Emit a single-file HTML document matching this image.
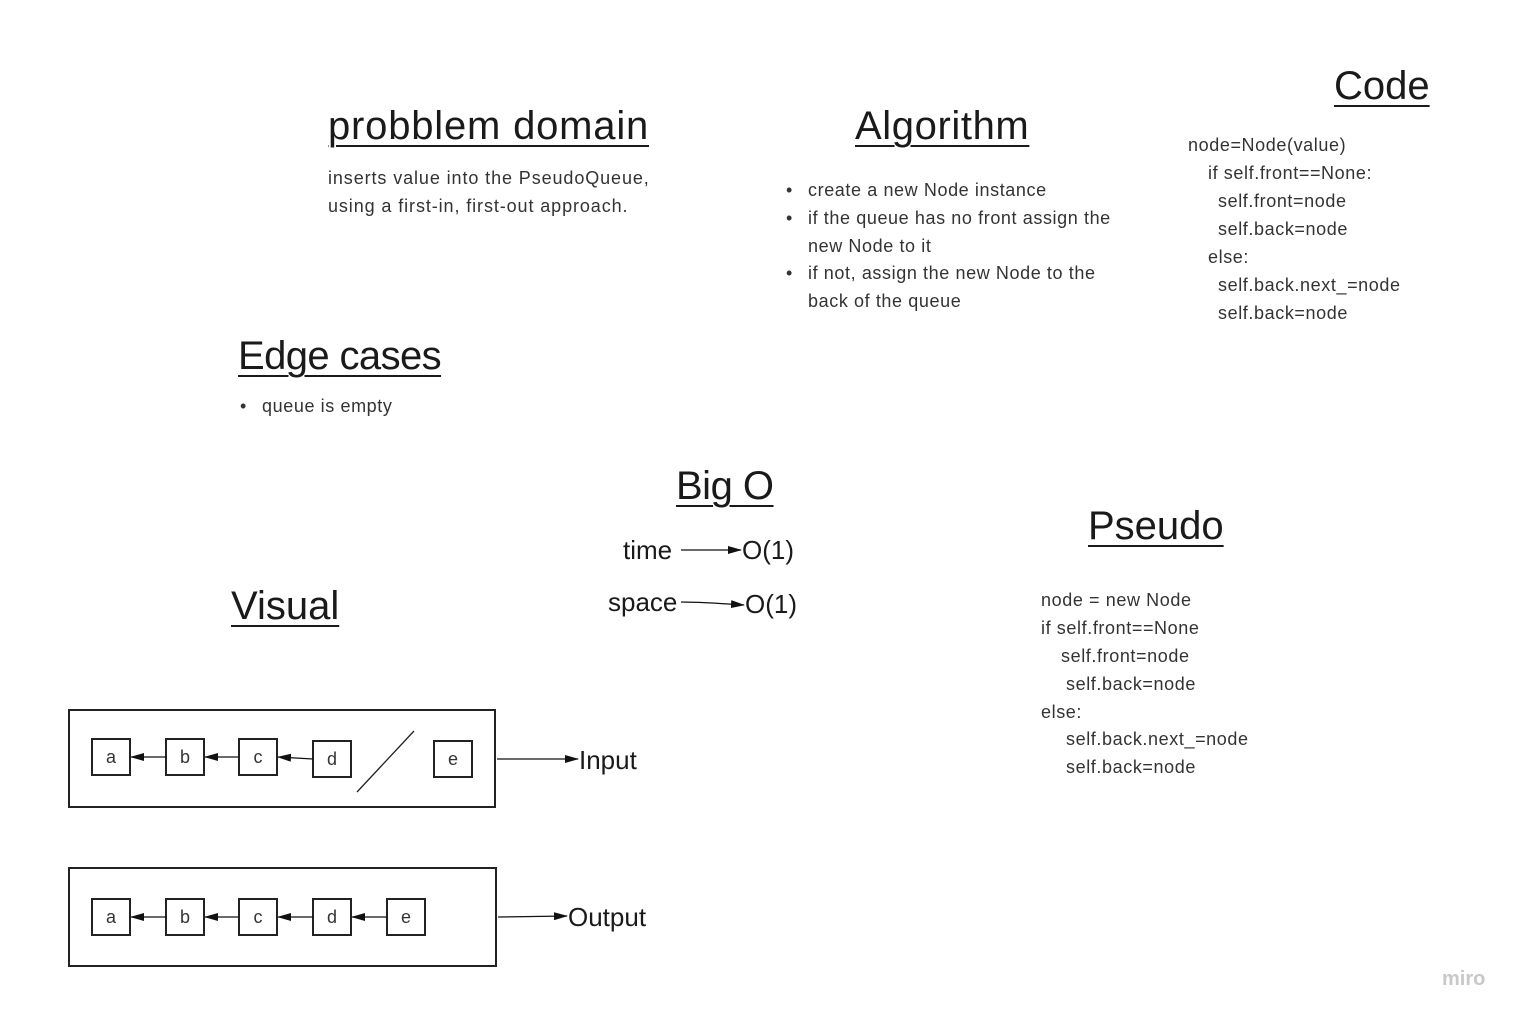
<!DOCTYPE html>
<html><head><meta charset="utf-8"><style>
body{margin:0;background:#fff;width:1526px;height:1023px;position:relative;overflow:hidden;font-family:"Liberation Sans",sans-serif;color:#1a1a1a}
.h{position:absolute;font-size:40px;line-height:40px;text-decoration:underline;text-decoration-thickness:2px;text-underline-offset:6px;color:#1a1a1a;white-space:nowrap}
.t{position:absolute;font-size:18px;line-height:28px;color:#333;white-space:nowrap;letter-spacing:0.6px}
.b{position:absolute;font-size:26px;line-height:30px;color:#1a1a1a;white-space:nowrap}
svg{position:absolute;left:0;top:0}
</style></head><body>
<div class="h" style="left:328px;top:106px;letter-spacing:0.8px">probblem domain</div>
<div class="h" style="left:855px;top:106px;letter-spacing:0.6px">Algorithm</div>
<div class="h" style="left:1334px;top:66px">Code</div>
<div class="h" style="left:238px;top:336px;letter-spacing:-0.6px">Edge cases</div>
<div class="h" style="left:676px;top:466px;letter-spacing:-0.5px">Big O</div>
<div class="h" style="left:1088px;top:506px">Pseudo</div>
<div class="h" style="left:231px;top:586px">Visual</div>

<div class="t" style="left:328px;top:164px;letter-spacing:0.9px">inserts value into the PseudoQueue,<br>using a first-in, first-out approach.</div>

<div class="t" style="left:808px;top:176px">create a new Node instance</div>
<div class="t" style="left:808px;top:204px">if the queue has no front assign the<br>new Node to it</div>
<div class="t" style="left:808px;top:259px">if not, assign the new Node to the<br>back of the queue</div>
<div class="t" style="left:786px;top:176px">•</div>
<div class="t" style="left:786px;top:204px">•</div>
<div class="t" style="left:786px;top:259px">•</div>

<div class="t" style="left:1188px;top:131px">node=Node(value)</div>
<div class="t" style="left:1208px;top:159px">if self.front==None:</div>
<div class="t" style="left:1218px;top:187px">self.front=node</div>
<div class="t" style="left:1218px;top:215px">self.back=node</div>
<div class="t" style="left:1208px;top:243px">else:</div>
<div class="t" style="left:1218px;top:271px">self.back.next_=node</div>
<div class="t" style="left:1218px;top:299px">self.back=node</div>

<div class="t" style="left:240px;top:392px">•</div>
<div class="t" style="left:262px;top:392px">queue is empty</div>

<div class="t" style="left:1041px;top:586px">node = new Node</div>
<div class="t" style="left:1041px;top:614px">if self.front==None</div>
<div class="t" style="left:1061px;top:642px">self.front=node</div>
<div class="t" style="left:1066px;top:670px">self.back=node</div>
<div class="t" style="left:1041px;top:698px">else:</div>
<div class="t" style="left:1066px;top:725px">self.back.next_=node</div>
<div class="t" style="left:1066px;top:753px">self.back=node</div>

<div class="b" style="left:623px;top:535px">time</div>
<div class="b" style="left:742px;top:535px">O(1)</div>
<div class="b" style="left:608px;top:587px">space</div>
<div class="b" style="left:745px;top:589px">O(1)</div>
<div class="b" style="left:579px;top:745px">Input</div>
<div class="b" style="left:568px;top:902px">Output</div>

<div style="position:absolute;left:1442px;top:968px;font-size:20px;font-weight:bold;color:#c8c8c8">miro</div>

<svg width="1526" height="1023">
<defs><marker id="a" markerWidth="14" markerHeight="8" refX="13" refY="4" orient="auto" markerUnits="userSpaceOnUse"><path d="M0,0 L14,4 L0,8 Z" fill="#111"/></marker></defs>
<g stroke="#222" fill="none" stroke-width="2">
<rect x="69" y="710" width="426" height="97"/>
<rect x="69" y="868" width="427" height="98"/>
<rect x="92" y="739" width="38" height="36"/>
<rect x="166" y="739" width="38" height="36"/>
<rect x="239" y="739" width="38" height="36"/>
<rect x="313" y="741" width="38" height="36"/>
<rect x="434" y="741" width="38" height="36"/>
<rect x="92" y="899" width="38" height="36"/>
<rect x="166" y="899" width="38" height="36"/>
<rect x="239" y="899" width="38" height="36"/>
<rect x="313" y="899" width="38" height="36"/>
<rect x="387" y="899" width="38" height="36"/>
</g>
<g stroke="#111" stroke-width="1.3" fill="none" marker-end="url(#a)">
<line x1="166" y1="757" x2="131" y2="757"/>
<line x1="239" y1="757" x2="205" y2="757"/>
<line x1="313" y1="759" x2="278" y2="757"/>
<line x1="166" y1="917" x2="131" y2="917"/>
<line x1="239" y1="917" x2="205" y2="917"/>
<line x1="313" y1="917" x2="278" y2="917"/>
<line x1="387" y1="917" x2="352" y2="917"/>
<line x1="497" y1="759" x2="578" y2="759"/>
<line x1="498" y1="917" x2="567" y2="916"/>
<line x1="681" y1="550" x2="741" y2="550"/>
<path d="M681,602 Q700,602 744,605"/>
</g>
<line x1="357" y1="792" x2="414" y2="731" stroke="#222" stroke-width="1.3"/>
</svg>
<div class="t" style="left:92px;top:743px;width:38px;text-align:center;letter-spacing:0">a</div>
<div class="t" style="left:166px;top:743px;width:38px;text-align:center;letter-spacing:0">b</div>
<div class="t" style="left:239px;top:743px;width:38px;text-align:center;letter-spacing:0">c</div>
<div class="t" style="left:313px;top:745px;width:38px;text-align:center;letter-spacing:0">d</div>
<div class="t" style="left:434px;top:745px;width:38px;text-align:center;letter-spacing:0">e</div>
<div class="t" style="left:92px;top:903px;width:38px;text-align:center;letter-spacing:0">a</div>
<div class="t" style="left:166px;top:903px;width:38px;text-align:center;letter-spacing:0">b</div>
<div class="t" style="left:239px;top:903px;width:38px;text-align:center;letter-spacing:0">c</div>
<div class="t" style="left:313px;top:903px;width:38px;text-align:center;letter-spacing:0">d</div>
<div class="t" style="left:387px;top:903px;width:38px;text-align:center;letter-spacing:0">e</div>
</body></html>
